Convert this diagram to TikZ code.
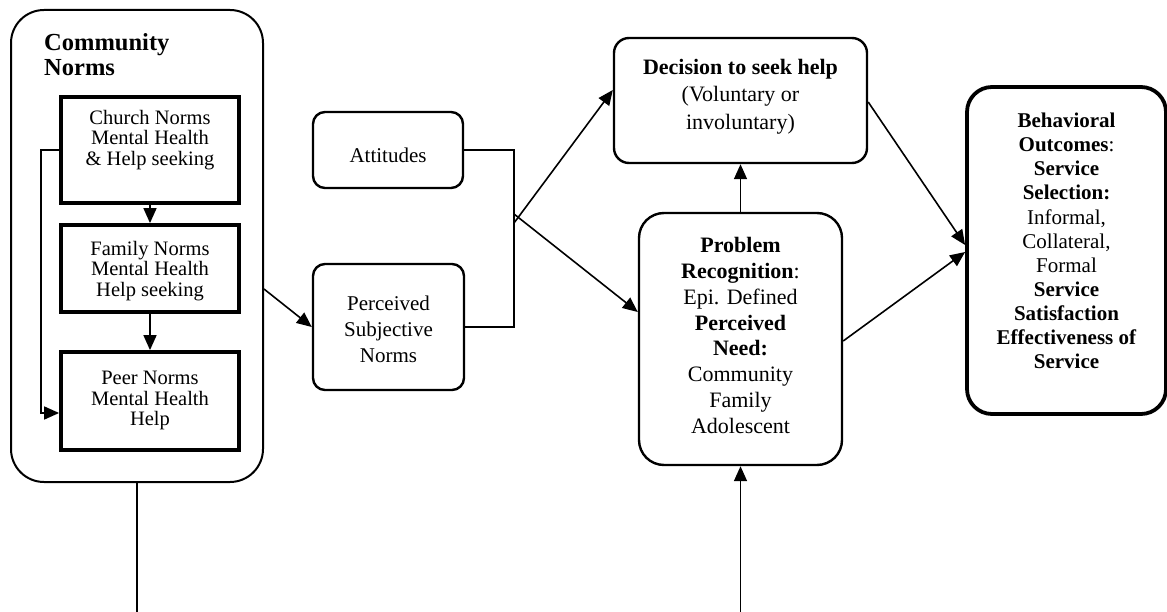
\documentclass[tikz,border=0pt]{standalone}
\usepackage{fontspec}
\setmainfont{Liberation Serif}
\usetikzlibrary{arrows.meta}

\begin{document}
\begin{tikzpicture}[
  x=1pt, y=-1pt,
  conn/.style={line width=1.6pt},
  arr/.style={conn, -{Triangle[length=15pt,width=13pt]}},
  roundbox/.style={draw, line width=2.4pt, rounded corners=#1, inner sep=0pt},
  roundbox/.default=12pt,
  normbox/.style={draw, line width=3.8pt, inner sep=0pt},
  txt/.style={align=center, inner sep=0pt},
]
\useasboundingbox (0,0) rectangle (1167,612);

% ---- Community norms group ----
\node[draw, line width=2pt, rounded corners=33pt, minimum width=252pt, minimum height=472pt] (comm) at (137,246) {};
\node[txt, align=left, anchor=west, font=\fontsize{24.5}{25}\selectfont\bfseries] (commlbl) at (44,55) {Community\\Norms};

\node[normbox, minimum width=178pt, minimum height=106pt] (church) at (150,150) {};
\node[txt, font=\fontsize{20.5}{20.7}\selectfont] (churchlbl) at (150,140) {Church Norms\\Mental Health\\\& Help seeking};

\node[normbox, minimum width=178pt, minimum height=87pt] (family) at (150,268.5) {};
\node[txt, font=\fontsize{20.5}{20.7}\selectfont] (familylbl) at (150,271) {Family Norms\\Mental Health\\Help seeking};

\node[normbox, minimum width=178pt, minimum height=98pt] (peer) at (150,401) {};
\node[txt, font=\fontsize{20.5}{20.7}\selectfont] (peerlbl) at (150,400.5) {Peer Norms\\Mental Health\\Help};

% ---- middle column ----
\node[roundbox, minimum width=150pt, minimum height=76pt] (att) at (388,150) {};
\node[txt, font=\fontsize{21}{22}\selectfont] (attlbl) at (388,155) {Attitudes};

\node[roundbox, minimum width=151pt, minimum height=126pt] (perc) at (388.5,327) {};
\node[txt, font=\fontsize{21}{26}\selectfont] (perclbl) at (388.5,329) {Perceived\\Subjective\\Norms};

% ---- decision / problem recognition ----
\node[roundbox=15pt, minimum width=253pt, minimum height=125pt] (dec) at (740.5,100.5) {};
\node[txt, font=\fontsize{22}{27.5}\selectfont] (declbl) at (740.5,96.5) {\textbf{Decision to seek help}\\(Voluntary or\\involuntary)};

\node[roundbox=25pt, minimum width=203pt, minimum height=252pt] (prob) at (740.5,339) {};
\node[txt, font=\fontsize{22}{25.8}\selectfont] (problbl) at (740.5,335.5) {\textbf{Problem}\\\textbf{Recognition}:\\Epi. Defined\\\textbf{Perceived}\\\textbf{Need:}\\Community\\Family\\Adolescent};

% ---- outcomes ----
\node[draw, line width=3.8pt, rounded corners=25pt, minimum width=199pt, minimum height=327pt] (beh) at (1066.5,250.5) {};
\node[txt, font=\fontsize{21}{24.1}\selectfont] (behlbl) at (1066.5,241) {\textbf{Behavioral}\\\textbf{Outcomes}:\\\textbf{Service}\\\textbf{Selection:}\\Informal,\\Collateral,\\Formal\\\textbf{Service}\\\textbf{Satisfaction}\\\textbf{Effectiveness of}\\\textbf{Service}};

% ---- connectors ----
\draw[arr] (church.south) -- (family.north);
\draw[arr] (family.south) -- (peer.north);
\draw[arr] (church.west) -- ++(-18,0) |- ([yshift=-12pt]peer.west);

\draw[arr] (comm.east |- 0,289) -- (perc.west);

\coordinate (bt) at (514,150);
\coordinate (bb) at (514,327);
\draw[conn] (att.east) -- (bt) -- (bb) -- (perc.east);

\coordinate (j1) at (514,223);
\coordinate (j2) at (514,214);
\draw[arr] (j1) -- ([yshift=10.5pt]dec.west);
\draw[arr] (j2) -- ([yshift=27pt]prob.west);

\draw[arr] (prob.north) -- (dec.south);

\coordinate (pbot) at (740.5,612);
\draw[arr] (pbot) -- (prob.south);

\coordinate (cbot) at (137,612);
\draw[conn] (comm.south) -- (cbot);

\draw[arr] ([yshift=-1.5pt]dec.east) -- ([yshift=5.5pt]beh.west);
\draw[arr] ([yshift=-2pt]prob.east) -- ([yshift=-1.5pt]beh.west);
\end{tikzpicture}
\end{document}
